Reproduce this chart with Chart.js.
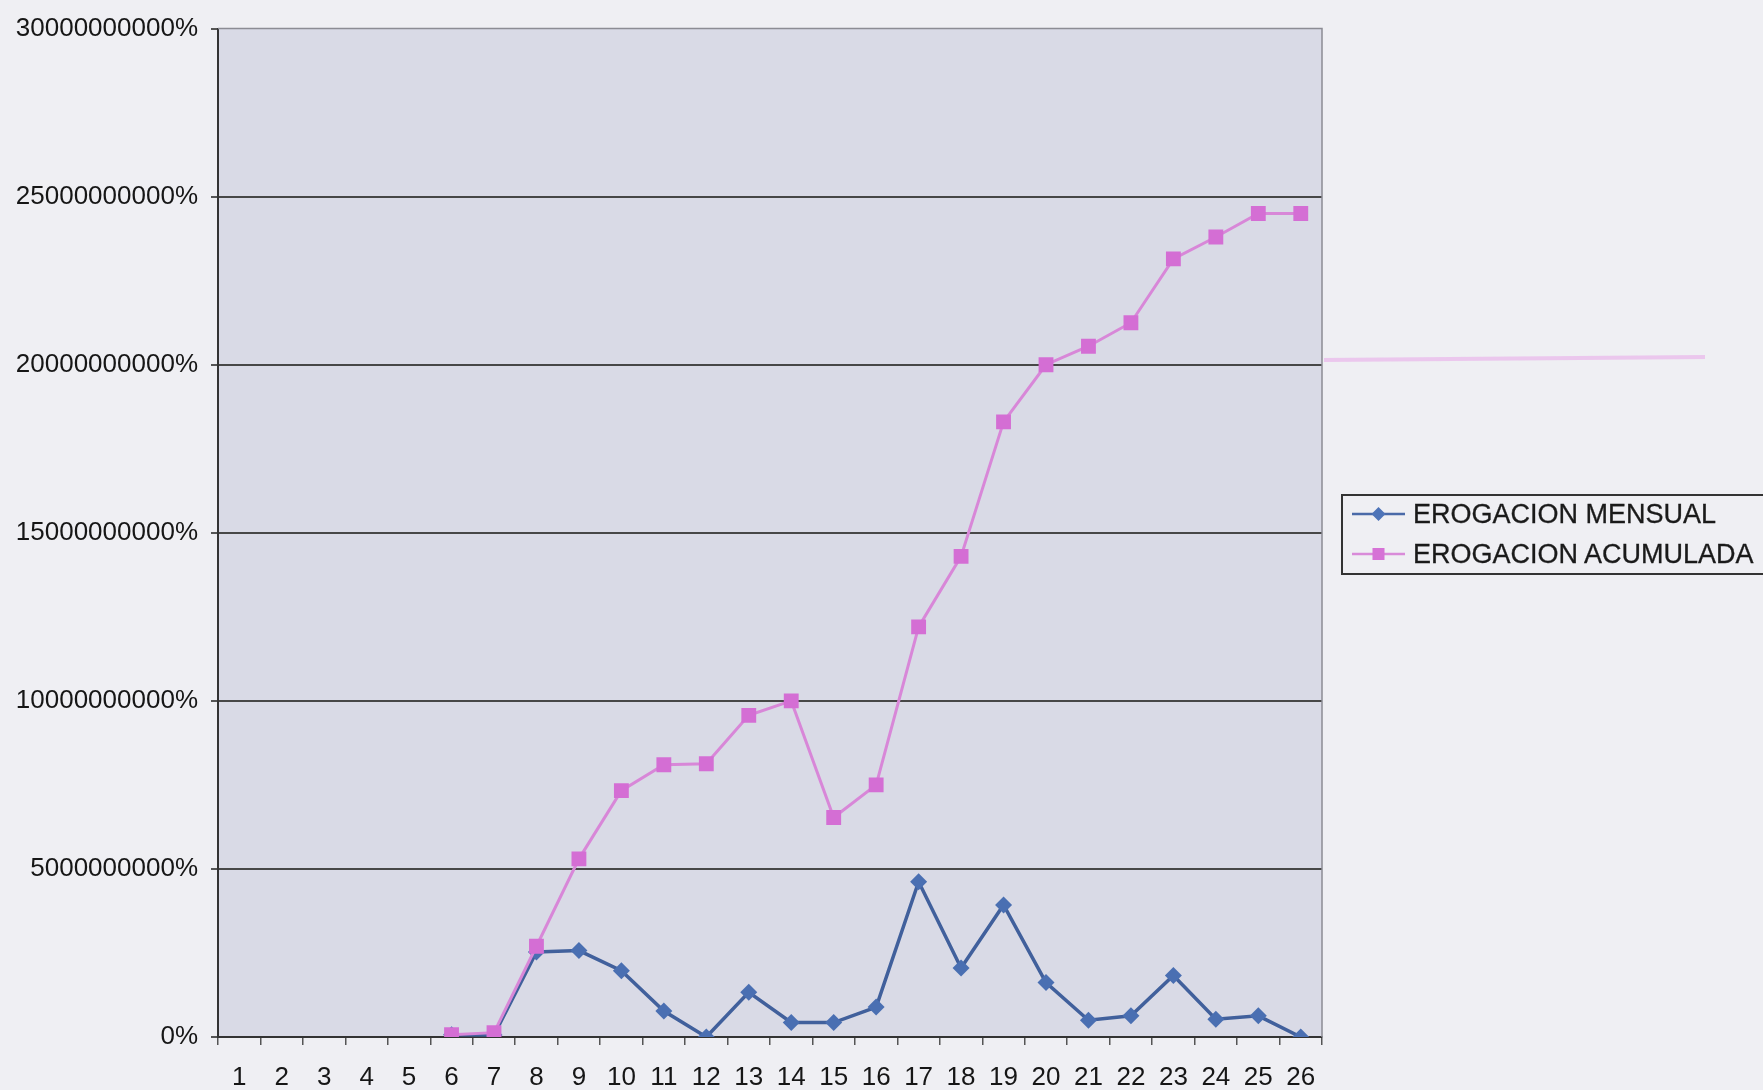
<!DOCTYPE html>
<html>
<head>
<meta charset="utf-8">
<script src="https://cdn.jsdelivr.net/npm/chart.js@4.4.1/dist/chart.umd.min.js"></script>
<style>
  html, body { margin: 0; padding: 0; background: #efeff3; }
  #wrap { position: relative; width: 1763px; height: 1090px; overflow: hidden; }
  #wrap canvas { position: absolute; left: 0; top: 0; }
  .legend {
    position: absolute; left: 1341px; top: 494px; width: 440px; height: 81px;
    border: 2px solid #333; box-sizing: border-box;
    font-family: "Liberation Sans", Arial, sans-serif; font-size: 27px; color: #1a1a1a;
    -webkit-text-stroke: 0.3px #1a1a1a;
  }
  .legend .row { position: absolute; left: 9px; height: 40px; display: flex; align-items: center; white-space: nowrap; }
  .legend svg { margin-right: 8px; }
</style>
</head>
<body>
<div id="wrap">
  <canvas id="myChart" width="1763" height="1090"></canvas>
  <div class="legend">
    <div class="row" style="top:-2px">
      <svg width="53" height="20"><line x1="0" y1="10" x2="53" y2="10" stroke="#4a6aa8" stroke-width="2.5"/><polygon points="26.5,3 33.5,10 26.5,17 19.5,10" fill="#4e74b8"/></svg>
      <span>EROGACION MENSUAL</span>
    </div>
    <div class="row" style="top:38px">
      <svg width="53" height="20"><line x1="0" y1="10" x2="53" y2="10" stroke="#d98bd9" stroke-width="2.5"/><rect x="20.5" y="4" width="12" height="12" fill="#d672d6"/></svg>
      <span>EROGACION ACUMULADA</span>
    </div>
  </div>
</div>
<script>
const periods = ['1','2','3','4','5','6','7','8','9','10','11','12','13','14','15','16','17','18','19','20','21','22','23','24','25','26'];

// raw values, axis shows value x 100 as %
const mensual = [null, null, null, null, null,
  700000, 600000, 25300000, 25700000, 19700000, 7700000, 0, 13300000, 4300000, 4300000,
  8900000, 46200000, 20500000, 39300000, 16200000, 5000000, 6300000, 18300000, 5300000, 6300000, 0];

const acumulada = [null, null, null, null, null,
  700000, 1300000, 27000000, 53000000, 73300000, 81000000, 81300000, 95700000, 100000000, 65300000,
  75000000, 122000000, 143000000, 183000000, 200000000, 205500000, 212500000, 231500000, 238000000, 245000000, 245000000];

const yTicks = [0, 50000000, 100000000, 150000000, 200000000, 250000000, 300000000];

const ctx = document.getElementById('myChart').getContext('2d');
const font = { family: '"Liberation Sans", Arial, sans-serif', size: 26 };

const plotBg = {
  id: 'plotBg',
  beforeDraw(chart) {
    const { ctx, chartArea: a } = chart;
    ctx.save();
    ctx.fillStyle = '#d9dae6';
    ctx.fillRect(a.left, a.top, a.right - a.left, a.bottom - a.top);
    ctx.restore();
  },
  beforeDatasetsDraw(chart) {
    const { ctx, chartArea: a } = chart;
    ctx.save();
    ctx.strokeStyle = '#8c8c94';
    ctx.lineWidth = 1.5;
    ctx.beginPath();
    ctx.moveTo(a.left, a.top);
    ctx.lineTo(a.right, a.top);
    ctx.lineTo(a.right, a.bottom);
    ctx.stroke();
    // faint pink scan streak to the right of the plot
    ctx.strokeStyle = 'rgba(232,160,232,0.5)';
    ctx.lineWidth = 4;
    ctx.beginPath();
    ctx.moveTo(a.right + 2, 360);
    ctx.lineTo(1705, 357);
    ctx.stroke();
    ctx.restore();
  }
};

new Chart(ctx, {
  type: 'line',
  data: {
    labels: periods,
    datasets: [
      {
        label: 'EROGACION MENSUAL',
        data: mensual,
        borderColor: '#41609c',
        backgroundColor: '#4a6fb2',
        borderWidth: 3.5,
        pointStyle: 'rectRot',
        pointRadius: 8.5,
        pointBorderWidth: 0,
        tension: 0,
        order: 1
      },
      {
        label: 'EROGACION ACUMULADA',
        data: acumulada,
        borderColor: '#d887d8',
        backgroundColor: '#d46ed4',
        borderWidth: 3,
        pointStyle: 'rect',
        pointRadius: 10.5,
        pointBorderWidth: 0,
        tension: 0,
        order: 0
      }
    ]
  },
  options: {
    responsive: false,
    animation: false,
    events: [],
    layout: { padding: { top: 28, right: 441, bottom: 0, left: 0 } },
    plugins: {
      legend: { display: false },
      tooltip: { enabled: false }
    },
    scales: {
      x: {
        offset: true,
        grid: { offset: true, drawOnChartArea: false, drawTicks: true, tickLength: 8, color: '#555', lineWidth: 1.5 },
        border: { color: '#333', width: 2 },
        ticks: { color: '#161616', font, padding: 17, maxRotation: 0, autoSkip: false },
        afterFit(scale) { scale.height = 53; }
      },
      y: {
        min: 0,
        max: 300000000,
        afterBuildTicks(scale) { scale.ticks = yTicks.map(v => ({ value: v })); },
        grid: {
          color: c => (c.tick && c.tick.value === 300000000) ? 'rgba(0,0,0,0)' : '#474747',
          lineWidth: 2,
          tickLength: 7,
          tickColor: '#555'
        },
        border: { color: '#333', width: 2 },
        ticks: {
          color: '#161616', font, padding: 13,
          callback: v => Math.round(v * 100) + '%'
        },
        afterFit(scale) { scale.width = 218; }
      }
    }
  },
  plugins: [plotBg]
});
</script>
</body>
</html>
